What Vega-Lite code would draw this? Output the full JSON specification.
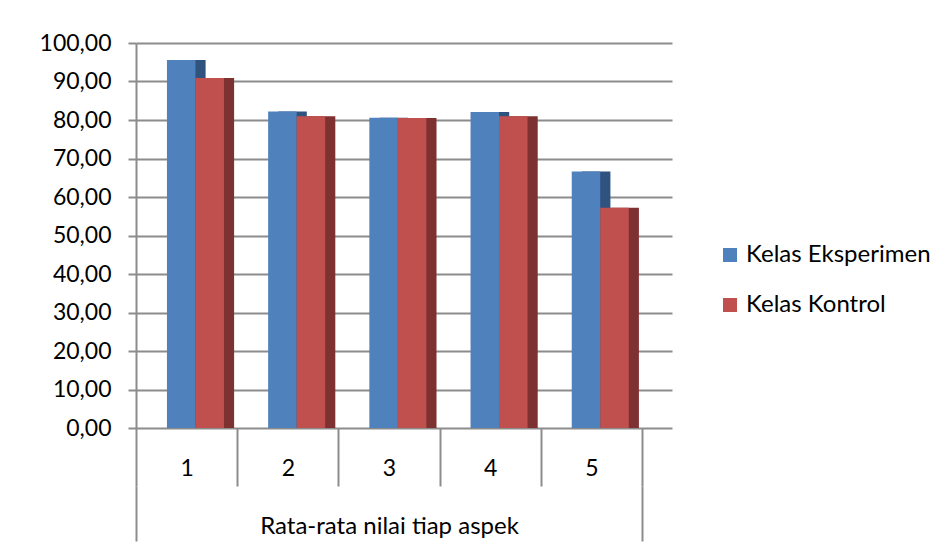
{
  "$schema": "https://vega.github.io/schema/vega-lite/v6.json",
  "width": 536,
  "height": 385,
  "autosize": {"type": "none"},
  "padding": {"left": 136, "top": 43, "right": 273, "bottom": 116},
  "background": "white",
  "config": {
    "font": "Lato",
    "view": {"stroke": null},
    "axis": {"labelColor": "#000000", "labelFont": "Lato", "titleColor": "#000000"}
  },
  "data": {
    "values": [
      {"aspek": "1", "kelas": "Kelas Eksperimen", "nilai": 95.6, "kelompok": "Rata-rata nilai tiap aspek"},
      {"aspek": "1", "kelas": "Kelas Kontrol", "nilai": 90.9, "kelompok": "Rata-rata nilai tiap aspek"},
      {"aspek": "2", "kelas": "Kelas Eksperimen", "nilai": 82.2, "kelompok": "Rata-rata nilai tiap aspek"},
      {"aspek": "2", "kelas": "Kelas Kontrol", "nilai": 81.0, "kelompok": "Rata-rata nilai tiap aspek"},
      {"aspek": "3", "kelas": "Kelas Eksperimen", "nilai": 80.6, "kelompok": "Rata-rata nilai tiap aspek"},
      {"aspek": "3", "kelas": "Kelas Kontrol", "nilai": 80.5, "kelompok": "Rata-rata nilai tiap aspek"},
      {"aspek": "4", "kelas": "Kelas Eksperimen", "nilai": 82.1, "kelompok": "Rata-rata nilai tiap aspek"},
      {"aspek": "4", "kelas": "Kelas Kontrol", "nilai": 81.0, "kelompok": "Rata-rata nilai tiap aspek"},
      {"aspek": "5", "kelas": "Kelas Eksperimen", "nilai": 66.6, "kelompok": "Rata-rata nilai tiap aspek"},
      {"aspek": "5", "kelas": "Kelas Kontrol", "nilai": 57.2, "kelompok": "Rata-rata nilai tiap aspek"}
    ]
  },
  "encoding": {
    "y": {
      "field": "nilai",
      "type": "quantitative",
      "scale": {"domain": [0, 100], "nice": false, "zero": true},
      "axis": {
        "title": null,
        "values": [0, 10, 20, 30, 40, 50, 60, 70, 80, 90, 100],
        "labelExpr": "replace(format(datum.value, '.2f'), '.', ',')",
        "labelFontSize": 23,
        "labelPadding": 17,
        "tickSize": 8,
        "tickColor": "#8c8c8c",
        "tickWidth": 2,
        "domainColor": "#8c8c8c",
        "domainWidth": 2,
        "grid": true,
        "gridColor": "#8c8c8c",
        "gridWidth": 2
      }
    }
  },
  "layer": [
    {
      "encoding": {
        "x": {
          "field": "aspek",
          "type": "nominal",
          "scale": {"paddingInner": 0, "paddingOuter": 0.1482, "align": 0},
          "axis": {
            "title": null,
            "labelAngle": 0,
            "labelFontSize": 23,
            "labelBaseline": "middle",
            "labelPadding": -18,
            "tickBand": "extent",
            "tickSize": 58,
            "tickColor": "#8c8c8c",
            "tickWidth": 2,
            "domain": false,
            "grid": false
          }
        }
      },
      "layer": [
        {
          "mark": {"type": "bar"},
          "encoding": {
            "xOffset": {
              "field": "kelas",
              "type": "nominal",
              "scale": {"paddingInner": 0, "paddingOuter": 0.7755, "align": 0.93}
            },
            "color": {
              "condition": {"test": "datum.kelas === 'Kelas Eksperimen'", "value": "#30527f"},
              "value": "#7e3131"
            }
          }
        },
        {
          "mark": {"type": "bar"},
          "encoding": {
            "xOffset": {
              "field": "kelas",
              "type": "nominal",
              "scale": {"paddingInner": 0, "paddingOuter": 0.7755, "align": 0.7}
            },
            "color": {
              "field": "kelas",
              "type": "nominal",
              "scale": {"domain": ["Kelas Eksperimen", "Kelas Kontrol"], "range": ["#4f81bd", "#c0504d"]},
              "legend": {
                "title": null,
                "orient": "none",
                "legendX": 582,
                "legendY": 200,
                "symbolType": "square",
                "symbolSize": 196,
                "symbolStrokeWidth": 0,
                "labelFontSize": 24,
                "labelFont": "Lato",
                "labelColor": "#000000",
                "labelOffset": 4,
                "labelLimit": 400,
                "rowPadding": 26,
                "padding": 0
              }
            }
          }
        }
      ],
      "resolve": {"scale": {"xOffset": "independent"}}
    },
    {
      "mark": {"type": "bar", "opacity": 0},
      "encoding": {
        "x": {
          "field": "kelompok",
          "type": "nominal",
          "scale": {"paddingInner": 0, "paddingOuter": 0.0296, "align": 0},
          "axis": {
            "title": null,
            "orient": "bottom",
            "offset": 58,
            "labelAngle": 0,
            "labelFontSize": 24,
            "labelBaseline": "middle",
            "labelPadding": -15,
            "labelLimit": 500,
            "tickBand": "extent",
            "tickSize": 55,
            "tickColor": "#8c8c8c",
            "tickWidth": 2,
            "domain": false,
            "grid": false
          }
        }
      }
    }
  ],
  "resolve": {"scale": {"x": "independent"}, "axis": {"x": "independent"}}
}
